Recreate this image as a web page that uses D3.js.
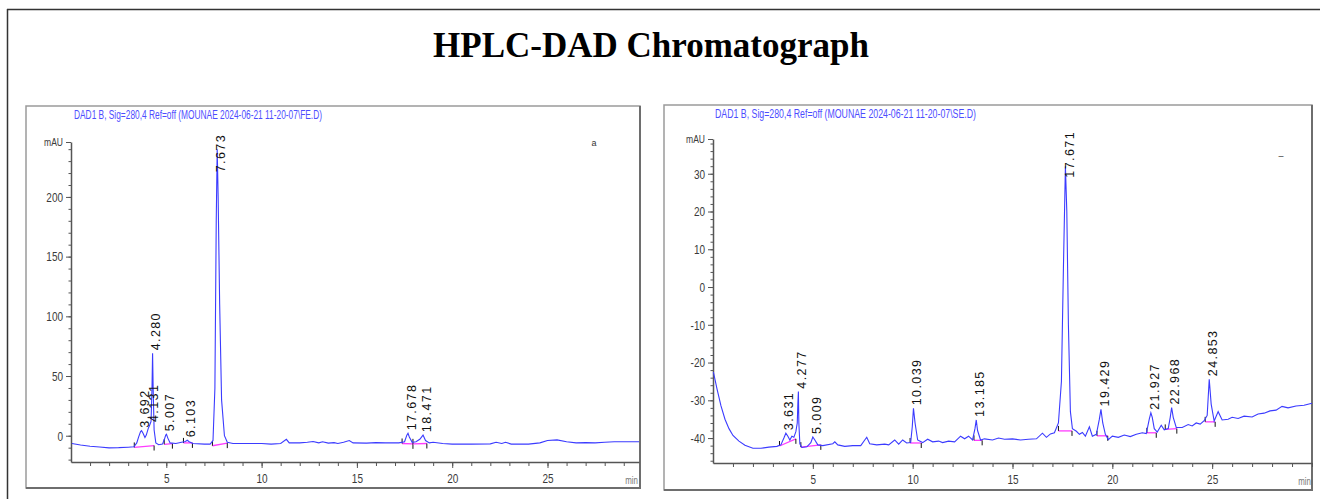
<!DOCTYPE html>
<html lang="en">
<head>
<meta charset="utf-8">
<title>HPLC-DAD Chromatograph</title>
<script src="https://cdn.jsdelivr.net/npm/d3@7"></script>
<style>
  body { margin: 0; background: #fff; }
  svg { display: block; }
  .tick text { font-family: "Liberation Sans", Arial, sans-serif; fill: #3a3a3a; }
</style>
</head>
<body>
<svg id="chart" width="1320" height="499"></svg>
<script>
// ---- data ----
// sample FE, retention time (min) vs absorbance (mAU)
var feTrace = [
  [0.05,-6.5],[0.5,-7.8],[1,-8.8],[1.5,-9.5],[2,-10.2],[2.5,-10],[3,-9.6],[3.3,-9.3],[3.45,-6],[3.55,-1],
  [3.65,3.5],[3.7,4.2],[3.78,2],[3.88,-1.5],[3.95,0.5],[4.05,6],[4.13,9],[4.2,12],[4.25,40],[4.28,69],
  [4.31,40],[4.36,5],[4.45,-6],[4.6,-7.5],[4.8,-7],[4.9,-3],[4.97,0.5],[5.01,1.2],[5.08,-2],[5.2,-6],
  [5.5,-6.5],[5.8,-5.5],[6.0,-4.8],[6.1,-3.8],[6.2,-5],[6.4,-6.5],[7.0,-7],[7.3,-7],[7.45,-4],[7.55,40],
  [7.62,180],[7.67,240],[7.72,200],[7.8,110],[7.9,30],[8.05,0],[8.2,-5.5],[8.5,-6.5],[9,-6.5],[10,-6.5],
  [10.5,-7],[11.0,-6.5],[11.3,-3],[11.45,-6],[12,-6],[12.4,-5.5],[12.7,-4.8],[13,-6],[13.2,-5],[13.5,-6.2],
  [13.8,-5.8],[14,-6.5],[14.3,-5.5],[14.6,-4],[14.8,-6],[15.5,-6.2],[16,-5.8],[16.5,-6],[17.2,-6],[17.5,-5],
  [17.62,0.5],[17.68,2],[17.75,-1],[17.9,-5.5],[18.1,-5],[18.3,-3],[18.47,0.5],[18.6,-4],[18.8,-6],[19,-5.5],
  [19.5,-6.5],[20,-7],[21,-7],[22,-6.8],[22.3,-5.5],[22.6,-6.5],[22.8,-5.5],[23.1,-7],[24,-7],[24.6,-6],
  [25,-4],[25.5,-3.5],[26,-5],[26.5,-6],[27,-5.8],[27.5,-6],[28,-5.5],[28.5,-5],[29.8,-5]
];
// sample SE
var seTrace = [
  [0.02,-22.5],[0.2,-27],[0.4,-31.5],[0.6,-35],[0.8,-37.5],[1.0,-39.3],[1.3,-40.8],[1.6,-41.9],[2.0,-42.7],[2.4,-42.7],
  [2.8,-42.4],[3.2,-42.2],[3.4,-41.8],[3.55,-40],[3.65,-38.7],[3.75,-39.5],[3.85,-40.5],[3.95,-39.5],[4.05,-39.8],[4.15,-38.3],
  [4.22,-36],[4.25,-31],[4.277,-27.7],[4.3,-36],[4.35,-41.5],[4.45,-42.5],[4.7,-42.3],[4.9,-41.2],[5.0,-39.7],[5.1,-40.5],
  [5.25,-41.8],[5.5,-42],[6.0,-41.5],[6.1,-41],[6.25,-41.8],[6.6,-42.2],[7.0,-42],[7.4,-42],[7.6,-40.5],[7.7,-39.8],
  [7.85,-41.5],[8.2,-41.8],[8.6,-41.6],[8.8,-41.8],[9.1,-40.5],[9.3,-41.6],[9.5,-40.5],[9.7,-41.3],[9.9,-41.2],[9.98,-37],
  [10.04,-32.1],[10.12,-36],[10.25,-40.5],[10.5,-41.2],[10.75,-40.3],[11,-41],[11.3,-40.8],[11.5,-41.2],[11.8,-40.8],[12.1,-41],
  [12.4,-39.5],[12.6,-40.2],[12.8,-39.5],[13.0,-40.5],[13.12,-37.5],[13.185,-35.2],[13.25,-38],[13.4,-40.5],[13.6,-40.2],[14.0,-40.5],
  [14.3,-40],[14.6,-40.3],[15,-40.2],[15.4,-40.5],[15.8,-40.3],[16.2,-40.2],[16.5,-38.7],[16.7,-39.8],[16.9,-38.9],[17.1,-38.6],
  [17.3,-36],[17.45,-25],[17.55,5],[17.65,32],[17.72,20],[17.8,-10],[17.9,-33],[18.0,-37.5],[18.2,-38.2],[18.35,-39],
  [18.5,-38.5],[18.65,-39.5],[18.85,-37],[19.0,-39.5],[19.2,-39],[19.35,-35],[19.43,-32.4],[19.52,-36],[19.65,-39],[19.8,-40.4],
  [20.0,-39.5],[20.3,-39.8],[20.6,-39.2],[20.9,-39.6],[21.2,-39.0],[21.5,-38.6],[21.7,-38.8],[21.85,-35],[21.93,-33.3],[22.0,-34.5],
  [22.1,-37.5],[22.25,-38.4],[22.45,-36.6],[22.6,-37.8],[22.8,-37.5],[22.9,-34.5],[22.97,-31.9],[23.05,-34.5],[23.2,-37.2],[23.5,-37.2],
  [23.8,-36.4],[24.0,-36.8],[24.2,-36.0],[24.4,-36.3],[24.6,-35.4],[24.75,-34],[24.853,-24.4],[24.95,-31],[25.1,-35.5],[25.3,-33],
  [25.5,-35.2],[25.8,-35],[26.0,-34.5],[26.3,-34.8],[26.6,-34.2],[27.0,-34.4],[27.3,-33.6],[27.6,-33.4],[27.9,-32.8],[28.2,-32.6],
  [28.5,-31.6],[28.8,-32],[29.2,-31.5],[29.6,-31.3],[30,-30.8]
];

// labelled retention times
var fePeaks = [3.692, 4.131, 4.280, 5.007, 6.103, 7.673, 17.678, 18.471];
var sePeaks = [3.631, 4.277, 5.009, 10.039, 13.185, 17.671, 19.429, 21.927, 22.968, 24.853];

// integration baselines [tStart, vStart, tEnd, vEnd]
var feBase = [[3.32,-9.8,4.36,-8.2],[4.89,-7.2,5.32,-6.6],[5.9,-6,6.37,-6],[7.42,-8.4,8.2,-6.2],[17.37,-6.5,17.94,-6.8],[17.94,-6.8,18.67,-6.5]];
var seBase = [[3.33,-42.1,4.15,-40.2],[4.4,-42.4,5.4,-41.8],[9.87,-41.3,10.43,-41.3],[13.07,-40.6,13.48,-40.6],[17.3,-38.1,17.98,-38.1],
              [19.23,-39.4,19.77,-39.4],[21.73,-38.6,22.2,-38.6],[22.65,-37.7,23.23,-37.5],[24.65,-35.7,25.15,-35.7]];

// tick values
var xMajor = [5, 10, 15, 20, 25];
var feYMajor = [0, 50, 100, 150, 200];
var seYMajor = [-40, -30, -20, -10, 0, 10, 20, 30];

var svg = d3.select("#chart");

// outer page frame
svg.append("line").attr("x1",7).attr("y1",9.5).attr("x2",1320).attr("y2",9.5).attr("stroke","#333").attr("stroke-width",1.5);
svg.append("line").attr("x1",7.5).attr("y1",9).attr("x2",7.5).attr("y2",499).attr("stroke","#333").attr("stroke-width",1.5);

svg.append("text").attr("x",651).attr("y",57).attr("text-anchor","middle")
  .style("font-family","'Liberation Serif','Times New Roman',serif").style("font-weight","bold").style("font-size","35px")
  .text("HPLC-DAD Chromatograph");

// squeeze axis text the way the instrument printout does
function narrow(sel, k) {
  sel.each(function(){
    var len = this.getComputedTextLength();
    d3.select(this).attr("textLength", len * k).attr("lengthAdjust", "spacingAndGlyphs");
  });
}

function drawPanel(p) {
  var g = svg.append("g");

  // panel frame
  g.append("rect").attr("x",p.box[0]).attr("y",p.box[1]).attr("width",p.box[2]-p.box[0]).attr("height",p.box[3]-p.box[1])
    .attr("fill","none").attr("stroke","#9a9a9a").attr("stroke-width",1.5);
  g.append("polyline").attr("points",[p.box[2],p.box[1],p.box[2],p.box[3],p.box[0],p.box[3]].join(" "))
    .attr("fill","none").attr("stroke","#6e6e6e").attr("stroke-width",2);

  var x = d3.scaleLinear().domain(p.xDom).range(p.xRange);
  var y = d3.scaleLinear().domain(p.yDom).range(p.yRange);

  // signal description
  g.append("text").attr("x",p.head[0]).attr("y",p.head[1]).attr("textLength",p.head[2]).attr("lengthAdjust","spacingAndGlyphs")
    .style("font-family","'Liberation Sans',Arial,sans-serif").style("font-size","12.5px").attr("fill","#4d4dff")
    .text(p.title);

  // y axis
  var yMinor = d3.range(Math.ceil(p.yDom[0]/p.yStep)*p.yStep, p.yDom[1], p.yStep);
  g.append("g").attr("transform","translate("+p.xRange[0]+",0)")
    .call(d3.axisLeft(y).tickValues(yMinor).tickSize(2.5).tickFormat(""))
    .call(function(a){ a.select(".domain").remove(); a.selectAll("line").attr("stroke","#555"); });
  var ya = g.append("g").attr("transform","translate("+p.xRange[0]+",0)")
    .call(d3.axisLeft(y).tickValues(p.yMajor.concat([p.yDom[1]])).tickSize(5).tickSizeOuter(0).tickPadding(3)
      .tickFormat(function(d){ return d === p.yDom[1] ? "mAU" : d; }));
  ya.select(".domain").attr("stroke","#555").attr("stroke-width",1.5);
  ya.selectAll("line").attr("stroke","#555");
  ya.selectAll("text").style("font-size","13.5px");
  ya.selectAll(".tick").filter(function(d){ return d === p.yDom[1]; }).select("text").style("font-size","11.5px");
  narrow(ya.selectAll("text"), 0.74);

  // x axis
  var xMinor = d3.range(1, Math.floor(p.xDom[1]) + 1);
  g.append("g").attr("transform","translate(0,"+p.yRange[0]+")")
    .call(d3.axisBottom(x).tickValues(xMinor).tickSize(4).tickFormat(""))
    .call(function(a){ a.select(".domain").remove(); a.selectAll("line").attr("stroke","#555"); });
  var xa = g.append("g").attr("transform","translate(0,"+p.yRange[0]+")")
    .call(d3.axisBottom(x).tickValues(xMajor).tickSize(6).tickSizeOuter(0).tickPadding(5));
  xa.select(".domain").attr("stroke","#555").attr("stroke-width",1.5);
  xa.selectAll("line").attr("stroke","#555");
  xa.selectAll("text").style("font-size","13.5px");
  narrow(xa.selectAll("text"), 0.74);
  var unit = g.append("text").attr("x",p.xRange[1]-1).attr("y",p.yRange[0]+22).attr("text-anchor","end")
    .style("font-family","'Liberation Sans',Arial,sans-serif").style("font-size","10.5px").attr("fill","#777")
    .text("min");
  narrow(unit, 0.75);

  // integration baselines + start/stop marks
  p.base.forEach(function(b){
    g.append("line").attr("x1",x(b[0])).attr("y1",y(b[1])).attr("x2",x(b[2])).attr("y2",y(b[3]))
      .attr("stroke","#ff3cff").attr("stroke-width",1.3);
    g.append("line").attr("x1",x(b[0])).attr("y1",y(b[1])).attr("x2",x(b[0])).attr("y2",y(b[1])-5)
      .attr("stroke","#111").attr("stroke-width",1);
    g.append("line").attr("x1",x(b[2])).attr("y1",y(b[3])).attr("x2",x(b[2])).attr("y2",y(b[3])+5)
      .attr("stroke","#111").attr("stroke-width",1);
  });

  // chromatogram
  var line = d3.line().x(function(d){ return x(d[0]); }).y(function(d){ return y(d[1]); });
  g.append("path").datum(p.trace).attr("d",line).attr("fill","none").attr("stroke","#3b3bff").attr("stroke-width",1.1);

  // retention time labels
  p.peaks.forEach(function(t){
    var near = p.trace.filter(function(d){ return Math.abs(d[0]-t) < 0.06; });
    var apex = d3.max(near, function(d){ return d[1]; });
    var lbl = g.append("text").attr("text-anchor","start").attr("dy","0.35em")
      .style("font-family","'Liberation Sans',Arial,sans-serif").style("font-size","12.5px").style("letter-spacing","1.4px")
      .attr("fill","#111").text(d3.format(".3f")(t));
    var len = lbl.node().getComputedTextLength();
    var bottom = Math.max(y(apex) - 3, p.yRange[1] - 8 + len);
    lbl.attr("transform","translate("+(x(t)+3.5)+","+bottom+") rotate(-90)");
  });

  g.append("text").attr("x",p.mark[0]).attr("y",p.mark[1]).attr("text-anchor","middle")
    .style("font-family","'Liberation Sans',Arial,sans-serif").style("font-size","9px").attr("fill","#333").text(p.mark[2]);
}

drawPanel({
  box: [26, 106, 640, 488],
  xDom: [0, 29.8], xRange: [71, 639],
  yDom: [-22, 246], yRange: [462, 142], yStep: 10,
  yMajor: feYMajor,
  head: [74, 119, 248],
  title: "DAD1 B, Sig=280,4 Ref=off (MOUNAE 2024-06-21 11-20-07\\FE.D)",
  trace: feTrace, peaks: fePeaks, base: feBase,
  mark: [594, 146, "a"]
});

drawPanel({
  box: [664, 105, 1312, 490],
  xDom: [0, 30], xRange: [713, 1312],
  yDom: [-46.6, 39.2], yRange: [463, 139], yStep: 2,
  yMajor: seYMajor,
  head: [715, 118, 261],
  title: "DAD1 B, Sig=280,4 Ref=off (MOUNAE 2024-06-21 11-20-07\\SE.D)",
  trace: seTrace, peaks: sePeaks, base: seBase,
  mark: [1281, 159, "\u2013"]
});
</script>
</body>
</html>
